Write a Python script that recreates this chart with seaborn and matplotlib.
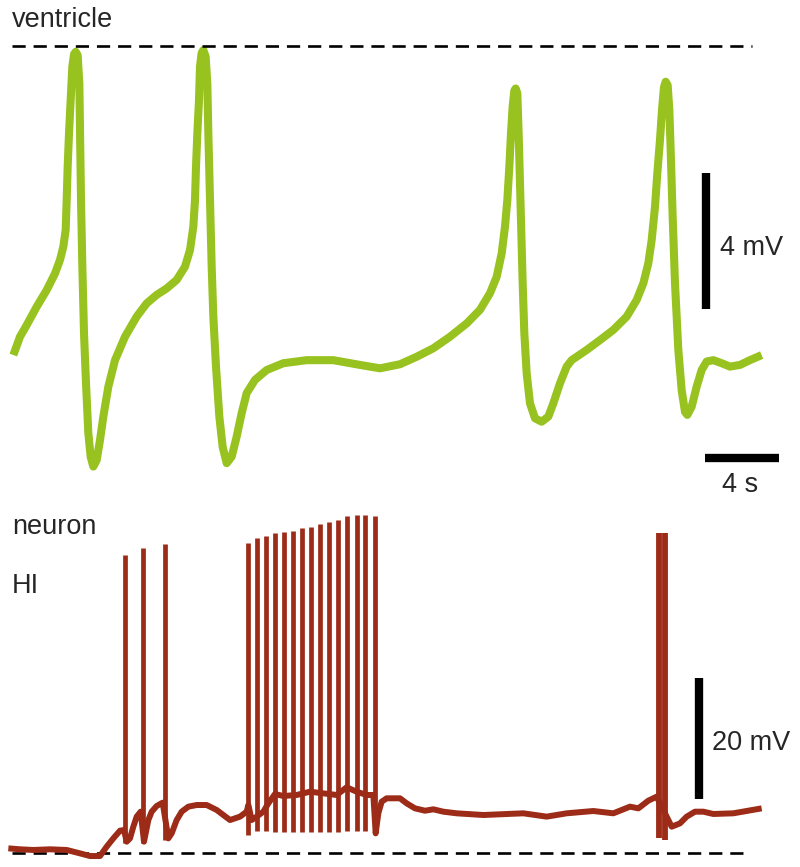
import matplotlib
matplotlib.use("Agg")
import matplotlib.pyplot as plt
import seaborn as sns
import pandas as pd

# ---------------- data (time in s, voltage in mV) ----------------
vent_t = [0.072, 0.432, 0.793, 1.333, 1.874, 2.324, 2.595, 2.775, 2.901,
          2.955, 3.009, 3.081, 3.171, 3.261, 3.351, 3.441, 3.549, 3.640,
          3.676, 3.730, 3.802, 3.892, 4.000, 4.126, 4.252, 4.396, 4.577,
          4.757, 4.937, 5.207, 5.568, 6.108, 6.739, 7.279, 7.820, 8.360,
          8.901, 9.351, 9.622, 9.802, 9.892, 9.946, 10.018, 10.108, 10.162,
          10.252, 10.342, 10.468, 10.558, 10.613, 10.703, 10.793, 10.883,
          11.027, 11.207, 11.387, 11.604, 11.874, 12.144, 12.414, 12.685,
          13.135, 13.766, 14.667, 15.928, 17.369, 18.811, 19.892,
          20.973, 21.874, 22.775, 23.676, 24.577, 25.297, 25.838, 26.198,
          26.469, 26.649, 26.775, 26.883, 26.973, 27.063, 27.153, 27.225,
          27.315, 27.387, 27.459, 27.532, 27.604, 27.694, 27.820, 28.000,
          28.270, 28.631, 28.991, 29.261, 29.622, 29.982, 30.252, 30.523,
          31.063, 31.784, 32.505, 33.225, 33.766, 34.126, 34.396, 34.577,
          34.757, 34.883, 35.027, 35.135, 35.243, 35.333, 35.441, 35.532,
          35.604, 35.712, 35.838, 36.018, 36.198, 36.378, 36.505, 36.739,
          37.009, 37.279, 37.550, 37.910, 38.360, 38.811, 39.351, 39.890,
          40.523]
vent_v = [-9.09, -8.55, -8.21, -7.67, -7.18, -6.69, -6.29, -5.90, -5.41,
          -4.53, -3.55, -2.57, -1.59, -0.61, -0.24, -0.17, -0.27, -1.10,
          -2.57, -4.53, -6.49, -8.45, -9.92, -11.39, -12.08, -12.37, -12.18,
          -11.59, -10.90, -10.02, -9.24, -8.55, -7.96, -7.57, -7.32, -7.13,
          -6.88, -6.49, -6.00, -5.31, -4.53, -3.55, -2.57, -1.59, -0.61,
          -0.20, -0.12, -0.31, -1.10, -2.57, -4.53, -6.49, -7.96, -9.43,
          -10.90, -11.79, -12.27, -12.08, -11.49, -10.80, -10.21, -9.82,
          -9.53, -9.33, -9.24, -9.24, -9.38, -9.48, -9.36, -9.14,
          -8.89, -8.55, -8.16, -7.76, -7.27, -6.79, -6.10, -5.31, -4.53,
          -3.55, -2.57, -1.78, -1.31, -1.25, -1.39, -2.57, -4.04, -5.51,
          -6.98, -8.45, -9.63, -10.51, -10.95, -11.05, -10.90, -10.51, -9.92,
          -9.43, -9.24, -9.14, -8.94, -8.65, -8.35, -7.96, -7.47, -6.98,
          -6.39, -5.71, -4.73, -3.74, -2.76, -1.88, -1.21, -1.05, -1.15,
          -1.88, -3.06, -5.02, -6.98, -8.94, -10.12, -10.76, -10.85, -10.61,
          -10.02, -9.53, -9.28, -9.24, -9.33, -9.43, -9.38, -9.24, -9.09]

neur_t = [-0.198, 0.432, 1.153, 2.054, 2.955, 3.676, 4.216, 4.757, 5.117,
          5.477, 5.838, 6.054, 6.198, 6.378, 6.559, 6.739, 6.955, 7.135,
          7.369, 7.550, 7.820, 8.144, 8.450, 8.631, 8.901, 9.171, 9.532,
          9.982, 10.523, 11.063, 11.784, 12.324, 12.685, 12.775, 12.955,
          13.225, 13.586, 13.856, 14.216, 14.667, 15.388, 16.108, 16.829,
          17.550, 18.090, 18.631, 19.171, 19.532, 19.658, 19.802, 19.982,
          20.252, 20.973, 21.333, 21.784, 22.324, 22.775, 23.315, 24.036,
          25.477, 27.640, 28.901, 29.982, 31.423, 32.505, 33.405, 33.856,
          34.396, 34.847, 35.658, 36.108, 36.469, 36.919, 37.369, 37.910,
          38.991, 40.523]
neur_v = [0.77, 0.61, 0.50, 0.61, 0.50, -0.06, -0.50, -0.50, 1.05, 2.42,
          3.69, 3.80, 1.87, 2.42, 4.35, 6.01, 6.83, 1.87, 5.45, 6.83, 7.77,
          8.32, 2.42, 3.25, 5.45, 6.83, 7.66, 7.93, 7.93, 7.11, 5.45, 6.01,
          6.83, 7.93, 5.45, 6.01, 6.83, 8.21, 9.75, 9.42, 9.59, 10.13, 9.86,
          9.59, 10.86, 10.13, 9.59, 9.59, 3.25, 6.56, 8.48, 9.04, 9.04, 8.21,
          7.38, 6.99, 7.22, 6.83, 6.56, 6.28, 6.56, 6.01, 6.56, 6.94, 6.56,
          7.66, 7.38, 8.65, 9.31, 4.35, 4.90, 6.01, 6.83, 6.83, 6.45, 6.56,
          7.38]

spike_t = [6.11, 7.08, 8.27, 12.77, 13.23, 13.71, 14.22, 14.70, 15.17, 15.68,
           16.16, 16.65, 17.14, 17.61, 18.12, 18.63, 19.10, 19.62]
spike_top = [49.3, 50.4, 51.1, 51.19, 52.0, 52.4, 52.84, 53.0, 53.27, 53.67,
             53.93, 54.38, 54.66, 55.04, 55.70, 55.87, 55.87, 55.75]
spike_bottom = [1.65, 1.65, 2.15, 2.98, 3.64, 3.64, 3.52, 3.42, 3.42, 3.42,
                3.42, 3.42, 3.42, 3.52, 3.64, 3.64, 3.64, 3.31]
late_spike_t = [35.00, 35.31]
late_spike_top = [52.95, 52.95]
late_spike_bottom = [2.48, 2.15]

green = "#97c21f"
red = "#9c2b17"

# ---------------- figure ----------------
sns.set_style("white")
plt.rcParams["font.family"] = ["Liberation Sans", "DejaVu Sans"]

fig = plt.figure(figsize=(8.0, 8.67), dpi=100)
ax_top = fig.add_axes([0, 0, 1, 1])
ax_bot = fig.add_axes([0, 0, 1, 1])
for ax in (ax_top, ax_bot):
    ax.set_axis_off()
    ax.patch.set_alpha(0)
    ax.set_xlim(-0.649, 42.595)
ax_top.set_ylim(-24.147, 1.353)
ax_bot.set_ylim(-2.314, 140.99)

# ventricle trace
vent_df = pd.DataFrame({"t": vent_t, "v": vent_v})
sns.lineplot(data=vent_df, x="t", y="v", ax=ax_top, color=green, lw=5.8,
             sort=False, estimator=None, solid_joinstyle="round",
             solid_capstyle="butt")
ax_top.plot([0, 40.0], [0, 0], color="black", lw=1.9,
            linestyle=(0, (5.0, 3.0)))

# neuron trace
neur_df = pd.DataFrame({"t": neur_t, "v": neur_v})
ax_bot.plot([0, 39.9], [0, 0], color="black", lw=1.9,
            linestyle=(0, (5.0, 3.0)))
ax_bot.vlines(spike_t, spike_bottom, spike_top, color=red, lw=3.4)
ax_bot.vlines(late_spike_t, late_spike_bottom, late_spike_top, color=red, lw=4.2)
sns.lineplot(data=neur_df, x="t", y="v", ax=ax_bot, color=red, lw=4.3,
             sort=False, estimator=None, solid_joinstyle="round",
             solid_capstyle="butt")

# scale bars
ax_top.plot([37.51, 37.51], [-3.74, -7.74], color="black", lw=6.0,
            solid_capstyle="butt")
ax_top.plot([37.46, 41.46], [-12.12, -12.12], color="black", lw=6.0,
            solid_capstyle="butt")
ax_bot.plot([37.14, 37.14], [8.93, 28.93], color="black", lw=6.0,
            solid_capstyle="butt")

fs = 19.5
ax_top.text(0.0, 0.56, "ventricle", fontsize=fs, ha="left", va="baseline")
ax_top.text(38.27, -6.15, "4 mV", fontsize=fs, ha="left", va="baseline")
ax_top.text(38.4, -13.12, "4 s", fontsize=fs, ha="left", va="baseline")
ax_bot.text(0.0, 52.73, "neuron", fontsize=fs, ha="left", va="baseline")
ax_bot.text(0.0, 42.98, "HI", fontsize=fs, ha="left", va="baseline")
ax_bot.text(37.82, 17.02, "20 mV", fontsize=fs, ha="left", va="baseline")

fig.savefig("out.png", dpi=100, facecolor="white")
